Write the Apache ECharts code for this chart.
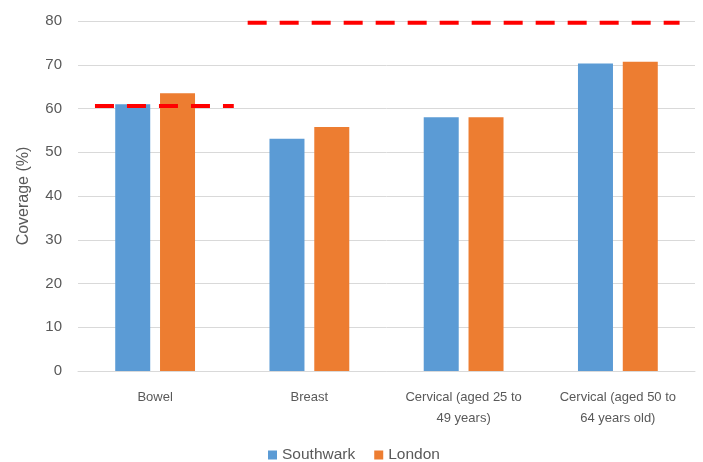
<!DOCTYPE html>
<html><head><meta charset="utf-8">
<script src="https://cdn.jsdelivr.net/npm/echarts@6/dist/echarts.min.js"></script>
<style>html,body{margin:0;padding:0;background:#fff}#c{width:703px;height:462px}</style>
</head><body><div id="c"></div>
<script>
const categories = ['Bowel', 'Breast', 'Cervical (aged 25 to 49 years)', 'Cervical (aged 50 to 64 years old)'];
const southwark = [61.0, 53.1, 58.0, 70.3];
const london = [63.5, 55.8, 58.0, 70.7];
const yTicks = [0, 10, 20, 30, 40, 50, 60, 70, 80];
const bowelTarget = 60.6;
const otherTarget = 79.6;

const chart = echarts.init(document.getElementById('c'));
const font = 'Liberation Sans, Arial, sans-serif';
chart.setOption({
  animation: false,
  textStyle: { fontFamily: font },
  grid: { left: 78, right: 8, top: 21, bottom: 91 },
  legend: {
    left: 263, top: 442,
    itemWidth: 9, itemHeight: 9, itemGap: 19,
    icon: 'rect',
    data: ['Southwark', 'London'],
    textStyle: { color: '#595959', fontSize: 15.5, fontFamily: font }
  },
  xAxis: [{
    type: 'category', data: categories,
    axisLine: { lineStyle: { color: '#d9d9d9' } },
    axisTick: { show: false },
    axisLabel: {
      interval: 0, color: '#595959', fontSize: 13, margin: 16, lineHeight: 21,
      formatter: v => v.replace(' to ', ' to\n')
    }
  }, {
    type: 'value', min: 0, max: 4, show: false
  }],
  yAxis: {
    type: 'value', min: yTicks[0], max: yTicks[yTicks.length - 1], interval: 10,
    name: 'Coverage (%)', nameLocation: 'middle', nameGap: 46, nameRotate: 90,
    nameTextStyle: { color: '#595959', fontSize: 16 },
    axisLabel: { color: '#595959', fontSize: 15, margin: 16 },
    axisLine: { show: false }, axisTick: { show: false },
    splitLine: { lineStyle: { color: '#d9d9d9', width: 1 } }
  },
  series: [
    { name: 'Southwark', type: 'bar', data: southwark, barWidth: 35, barGap: '28%',
      itemStyle: { color: '#5b9bd5' } },
    { name: 'London', type: 'bar', data: london, barWidth: 35,
      itemStyle: { color: '#ed7d31' } },
    { name: 'target1', type: 'line', xAxisIndex: 1, symbol: 'none', silent: true,
      data: [[0.11, bowelTarget], [1.01, bowelTarget]],
      lineStyle: { color: '#ff0000', width: 4, type: [19, 13] } },
    { name: 'target2', type: 'line', xAxisIndex: 1, symbol: 'none', silent: true,
      data: [[1.1, otherTarget], [3.9, otherTarget]],
      lineStyle: { color: '#ff0000', width: 4, type: [19, 13] } }
  ]
});
</script></body></html>
